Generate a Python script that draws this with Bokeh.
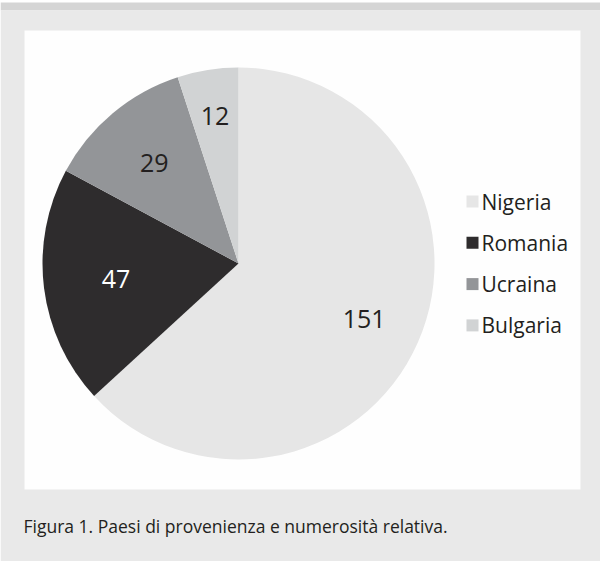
import math
from bokeh.plotting import figure
from bokeh.models import Range1d, ColumnDataSource
from bokeh.core.properties import value
from bokeh.embed import file_html
from bokeh.resources import INLINE

# ---- data ----
countries = ["Nigeria", "Romania", "Ucraina", "Bulgaria"]
counts = [151, 47, 29, 12]
caption = "Figura 1. Paesi di provenienza e numerosità relativa."

# ---- styles / layout ----
colors = ["#e6e6e6", "#2e2c2d", "#939598", "#d1d3d4"]
label_colors = ["#231f20", "#ffffff", "#231f20", "#231f20"]
label_r = [0.70, 0.63, 0.67, 0.76]
FONT = "Open Sans"
W, H = 600, 561


def Y(py):
    return 577 - py


p = figure(width=W, height=H, output_backend="svg", toolbar_location=None,
           x_range=Range1d(8, 8 + W), y_range=Range1d(Y(8 + H), Y(8)),
           min_border=0, outline_line_color=None)
p.axis.visible = False
p.grid.visible = False
p.background_fill_color = "white"
p.border_fill_color = "white"

# frame background
p.quad(left=[8], right=[616], top=[Y(10)], bottom=[Y(18)], fill_color="#d5d5d5", line_color=None)
p.quad(left=[8], right=[616], top=[Y(18)], bottom=[Y(580)], fill_color="#e9e9e9", line_color=None)
p.quad(left=[32], right=[588], top=[Y(38)], bottom=[Y(497)], fill_color="#fefefe", line_color=None)

# pie
cx, cy, R = 246, Y(271), 196
total = sum(counts)
starts, ends, lx, ly = [], [], [], []
a = math.pi / 2
for c, rf in zip(counts, label_r):
    sweep = c / total * 2 * math.pi
    starts.append(a)
    ends.append(a - sweep)
    mid = a - sweep / 2
    lx.append(cx + rf * R * math.cos(mid))
    ly.append(cy + rf * R * math.sin(mid))
    a -= sweep

src = ColumnDataSource(dict(start=starts, end=ends, color=colors, lx=lx, ly=ly,
                            lab=[str(c) for c in counts], lc=label_colors))
p.wedge(x=cx, y=cy, radius=R, start_angle="start", end_angle="end", direction="clock",
        fill_color="color", line_color=None, source=src)
p.text(x="lx", y="ly", text="lab", text_color="lc", text_align="center", text_baseline="middle",
       text_font=value(FONT), text_font_size="25px", source=src)

# legend
ly0, dy = 209, 41.3
sq_y = [Y(ly0 + i * dy) for i in range(len(countries))]
lsrc = ColumnDataSource(dict(y=sq_y, name=countries, color=colors))
p.rect(x=480, y="y", width=12, height=12, fill_color="color", line_color=None, source=lsrc)
p.text(x=489, y="y", text="name", text_color="#231f20", text_align="left", text_baseline="middle",
       text_font=value(FONT), text_font_size="21px", source=lsrc)

# caption
p.text(x=[31], y=[Y(533)], text=[caption], text_color="#231f20", text_align="left",
       text_baseline="middle", text_font=value(FONT), text_font_size="17.5px")

open("out.html", "w").write(file_html(p, INLINE))
